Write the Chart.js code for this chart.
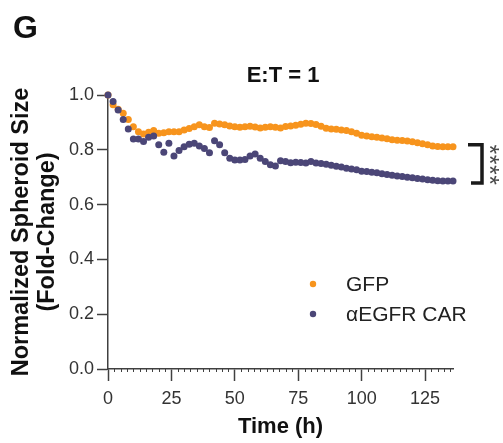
<!DOCTYPE html>
<html>
<head>
<meta charset="utf-8">
<script src="https://cdn.jsdelivr.net/npm/chart.js@4/dist/chart.umd.min.js"></script>
<style>
html,body{margin:0;padding:0;background:#fff;}
#wrap{width:503px;height:443px;position:relative;}
</style>
</head>
<body>
<div id="wrap"><canvas id="c" width="503" height="443"></canvas></div>
<script>
const panelLabel = 'G';
const chartTitle = 'E:T = 1';
const seriesNames = ['GFP', 'αEGFR CAR'];
const times = [0,2,4,6,8,10,12,14,16,18,20,22,24,26,28,30,32,34,36,38,40,42,44,46,48,50,52,54,56,58,60,62,64,66,68,70,72,74,76,78,80,82,84,86,88,90,92,94,96,98,100,102,104,106,108,110,112,114,116,118,120,122,124,126,128,130,132,134,136];
const gfp = [1.000,0.964,0.948,0.933,0.911,0.884,0.866,0.858,0.864,0.870,0.860,0.862,0.866,0.866,0.866,0.872,0.878,0.884,0.891,0.884,0.881,0.897,0.894,0.891,0.887,0.884,0.882,0.884,0.886,0.883,0.880,0.882,0.884,0.882,0.880,0.885,0.887,0.890,0.893,0.897,0.896,0.892,0.886,0.879,0.876,0.875,0.872,0.870,0.866,0.860,0.853,0.850,0.848,0.846,0.843,0.840,0.837,0.835,0.834,0.832,0.829,0.826,0.822,0.818,0.814,0.812,0.811,0.811,0.811];
const car = [1.000,0.976,0.945,0.911,0.876,0.839,0.839,0.830,0.846,0.850,0.818,0.791,0.824,0.777,0.797,0.811,0.820,0.824,0.814,0.805,0.789,0.833,0.818,0.789,0.769,0.763,0.763,0.765,0.777,0.785,0.769,0.757,0.745,0.741,0.760,0.757,0.753,0.755,0.754,0.752,0.757,0.752,0.750,0.747,0.744,0.740,0.737,0.733,0.730,0.727,0.722,0.721,0.718,0.716,0.713,0.710,0.707,0.704,0.703,0.700,0.698,0.695,0.693,0.691,0.689,0.687,0.686,0.686,0.686];
const xTicks = [0,25,50,75,100,125];
const yTicks = [0,0.2,0.4,0.6,0.8,1.0];
const xMinorStep = 2.5;
const xMax = 136;
const sigLabel = '****';

const colors = ['#F7941D', '#4B4677'];
const axisColor = '#404040';
const FONT = '"Liberation Sans", Arial, Helvetica, sans-serif';

const extras = {
  id: 'extras',
  afterDatasetsDraw(chart) {
    const ctx = chart.ctx;
    const xs = chart.scales.x, ys = chart.scales.y;
    ctx.save();
    ctx.strokeStyle = axisColor;
    ctx.lineWidth = 1;
    const yAxis = ys.getPixelForValue(0);
    for (let v = xMinorStep; v <= xMax; v += xMinorStep) {
      if (xTicks.includes(v)) continue;
      const px = Math.round(xs.getPixelForValue(v)) + 0.5;
      ctx.beginPath();
      ctx.moveTo(px, yAxis);
      ctx.lineTo(px, yAxis + 3);
      ctx.stroke();
    }
    ctx.fillStyle = '#111';
    ctx.font = 'bold 32px ' + FONT;
    ctx.textAlign = 'left';
    ctx.textBaseline = 'alphabetic';
    ctx.fillText(panelLabel, 13, 38);
    ctx.font = 'bold 22px ' + FONT;
    ctx.textAlign = 'center';
    ctx.textBaseline = 'middle';
    ctx.fillText(chartTitle, 283, 76);
    ctx.font = '21px ' + FONT;
    ctx.textAlign = 'left';
    const legY = [284, 314];
    seriesNames.forEach((n, i) => {
      ctx.fillStyle = colors[i];
      ctx.beginPath();
      ctx.arc(313, legY[i], 3.2, 0, Math.PI * 2);
      ctx.fill();
      ctx.fillStyle = '#222';
      ctx.fillText(n, 346, legY[i] + 1);
    });
    const yTop = ys.getPixelForValue(gfp[gfp.length - 1]) - 2;
    const yBot = ys.getPixelForValue(car[car.length - 1]) + 2;
    ctx.strokeStyle = '#1a1a1a';
    ctx.lineWidth = 3.5;
    ctx.lineJoin = 'miter';
    ctx.beginPath();
    ctx.moveTo(468, yTop);
    ctx.lineTo(482, yTop);
    ctx.lineTo(482, yBot);
    ctx.lineTo(471, yBot);
    ctx.stroke();
    ctx.translate(488, (yTop + yBot) / 2 + 1);
    ctx.rotate(Math.PI / 2);
    ctx.fillStyle = '#4a4a4a';
    ctx.font = '25px ' + FONT;
    try { ctx.letterSpacing = '0.5px'; } catch (e) {}
    ctx.textAlign = 'center';
    ctx.textBaseline = 'middle';
    ctx.fillText(sigLabel, 0, 0);
    ctx.restore();
  }
};

new Chart(document.getElementById('c'), {
  type: 'scatter',
  data: {
    datasets: [
      { label: seriesNames[0], data: times.map((t, i) => ({x: t, y: gfp[i]})), backgroundColor: colors[0], borderColor: colors[0], borderWidth: 0, pointRadius: 3.5, order: 1, clip: false },
      { label: seriesNames[1], data: times.map((t, i) => ({x: t, y: car[i]})), backgroundColor: colors[1], borderColor: colors[1], borderWidth: 0, pointRadius: 3.5, order: 0, clip: false }
    ]
  },
  options: {
    responsive: false,
    animation: false,
    events: [],
    layout: { padding: { left: 0, right: 50, top: 95, bottom: 0 } },
    plugins: { legend: { display: false }, tooltip: { enabled: false }, title: { display: false } },
    scales: {
      x: {
        type: 'linear', min: 0, max: xMax,
        afterBuildTicks: s => { s.ticks = xTicks.map(v => ({value: v})); },
        afterFit: s => { s.height = 74; },
        grid: { display: true, drawOnChartArea: false, drawTicks: true, tickLength: 12, tickColor: axisColor, tickWidth: 1.5 },
        border: { display: true, color: axisColor, width: 1.5 },
        ticks: { color: '#333', font: { family: FONT, size: 18 }, padding: 7, maxRotation: 0, includeBounds: false },
        title: { display: true, text: 'Time (h)', color: '#111', font: { family: FONT, size: 22, weight: 'bold', lineHeight: 1.15 }, padding: { top: 0, bottom: 3 } }
      },
      y: {
        type: 'linear', min: 0, max: 1.0,
        afterBuildTicks: s => { s.ticks = yTicks.map(v => ({value: v})); },
        afterFit: s => { s.width = 108; },
        grid: { display: true, drawOnChartArea: false, drawTicks: true, tickLength: 11, tickColor: axisColor, tickWidth: 1.5 },
        border: { display: true, color: axisColor, width: 1.5 },
        ticks: { color: '#333', font: { family: FONT, size: 18 }, padding: 3, callback: v => Number(v).toFixed(1) },
        title: { display: true, text: ['Normalized Spheroid Size', '(Fold-Change)'], color: '#111', font: { family: FONT, size: 23.5, weight: 'bold', lineHeight: 1.08 }, padding: { top: 9, bottom: 0 } }
      }
    }
  },
  plugins: [extras]
});
</script>
</body>
</html>
